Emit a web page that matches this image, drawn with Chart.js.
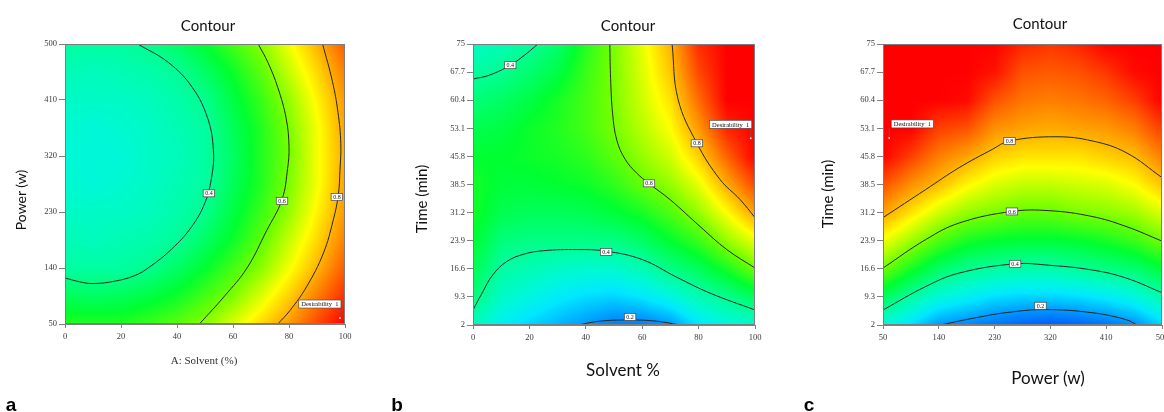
<!DOCTYPE html>
<html>
<head>
<meta charset="utf-8">
<script src="https://cdn.jsdelivr.net/npm/chart.js@4.4.1/dist/chart.umd.min.js"></script>
<style>
  body { margin: 0; background: #fff; width: 1164px; height: 412px; position: relative; overflow: hidden; font-family: Lato, sans-serif; }
  canvas { position: absolute; left: 0; top: 0; }
  .t { position: absolute; white-space: nowrap; color: #111; transform: translate(-50%, -50%); line-height: 1; }
  .rot { transform: translate(-50%, -50%) rotate(-90deg); }
  .serif { font-family: "Liberation Serif", serif; color: #333; }
  .tag { font-family: "Liberation Sans", Arial, sans-serif; font-weight: bold; font-size: 19px; color: #000; }
</style>
</head>
<body>
<canvas id="chartA" width="1164" height="412"></canvas>
<canvas id="chartB" width="1164" height="412"></canvas>
<canvas id="chartC" width="1164" height="412"></canvas>

<div class="t" style="left:208px; top:25px; font-size:15px;">Contour</div>
<div class="t" style="left:628px; top:25px; font-size:15px;">Contour</div>
<div class="t" style="left:1040px; top:23px; font-size:15px;">Contour</div>

<div class="t rot" style="left:21px; top:200px; font-size:14px;">Power (w)</div>
<div class="t rot" style="left:421px; top:199px; font-size:15px;">Time (min)</div>
<div class="t rot" style="left:827px; top:194px; font-size:15px;">Time (min)</div>

<div class="t serif" style="left:204px; top:360px; font-size:11px;">A: Solvent (%)</div>
<div class="t" style="left:623px; top:369px; font-size:17px;">Solvent %</div>
<div class="t" style="left:1048px; top:377px; font-size:17px;">Power (w)</div>

<div class="t tag" style="left:11px; top:404px;">a</div>
<div class="t tag" style="left:397px; top:404px;">b</div>
<div class="t tag" style="left:809px; top:404px;">c</div>

<script>
// axis ticks
const solventTicks = [0, 20, 40, 60, 80, 100];
const powerTicks = [50, 140, 230, 320, 410, 500];
const timeTicks = [2, 9.3, 16.6, 23.9, 31.2, 38.5, 45.8, 53.1, 60.4, 67.7, 75];

const solventGrid = [0, 10, 20, 30, 40, 50, 60, 70, 80, 90, 100];
const powerGrid = [50, 95, 140, 185, 230, 275, 320, 365, 410, 455, 500];
const timeGrid = [2, 9.3, 16.6, 23.9, 31.2, 38.5, 45.8, 53.1, 60.4, 67.7, 75];

// a: rows = power (50 -> 500), cols = solvent (0 -> 100)
const desirA = [
  [0.53, 0.53, 0.53, 0.55, 0.58, 0.62, 0.69, 0.76, 0.83, 0.92, 1.00],
  [0.46, 0.45, 0.46, 0.48, 0.51, 0.56, 0.61, 0.69, 0.77, 0.86, 0.95],
  [0.39, 0.39, 0.39, 0.41, 0.45, 0.50, 0.56, 0.62, 0.71, 0.80, 0.90],
  [0.37, 0.36, 0.37, 0.38, 0.40, 0.45, 0.51, 0.58, 0.67, 0.76, 0.86],
  [0.35, 0.35, 0.35, 0.36, 0.38, 0.41, 0.48, 0.55, 0.63, 0.73, 0.83],
  [0.34, 0.33, 0.34, 0.35, 0.37, 0.39, 0.46, 0.53, 0.61, 0.71, 0.82],
  [0.33, 0.33, 0.33, 0.35, 0.36, 0.39, 0.45, 0.53, 0.60, 0.71, 0.81],
  [0.34, 0.33, 0.34, 0.35, 0.37, 0.39, 0.46, 0.53, 0.61, 0.71, 0.82],
  [0.35, 0.35, 0.35, 0.36, 0.38, 0.41, 0.48, 0.55, 0.63, 0.73, 0.83],
  [0.37, 0.36, 0.37, 0.38, 0.40, 0.45, 0.51, 0.58, 0.67, 0.76, 0.86],
  [0.39, 0.39, 0.39, 0.41, 0.45, 0.50, 0.56, 0.62, 0.71, 0.80, 0.90]
];

// b: rows = time (2 -> 75), cols = solvent (0 -> 100)
const desirB = [
  [0.36, 0.30, 0.26, 0.23, 0.20, 0.17, 0.17, 0.20, 0.28, 0.32, 0.34],
  [0.43, 0.35, 0.32, 0.29, 0.27, 0.26, 0.28, 0.32, 0.37, 0.41, 0.46],
  [0.47, 0.39, 0.37, 0.35, 0.34, 0.34, 0.37, 0.42, 0.46, 0.52, 0.60],
  [0.50, 0.43, 0.42, 0.42, 0.42, 0.42, 0.45, 0.50, 0.55, 0.63, 0.70],
  [0.52, 0.47, 0.46, 0.46, 0.47, 0.49, 0.52, 0.57, 0.63, 0.72, 0.82],
  [0.52, 0.49, 0.49, 0.50, 0.51, 0.54, 0.59, 0.63, 0.70, 0.81, 0.92],
  [0.50, 0.50, 0.51, 0.52, 0.54, 0.58, 0.63, 0.68, 0.77, 0.89, 1.00],
  [0.47, 0.48, 0.51, 0.53, 0.56, 0.605, 0.66, 0.72, 0.83, 0.96, 1.00],
  [0.43, 0.45, 0.48, 0.52, 0.56, 0.61, 0.68, 0.75, 0.88, 1.00, 1.00],
  [0.39, 0.405, 0.44, 0.48, 0.55, 0.61, 0.69, 0.78, 0.92, 1.00, 1.00],
  [0.35, 0.37, 0.395, 0.44, 0.53, 0.61, 0.70, 0.80, 0.95, 1.00, 1.00]
];

// c: rows = time (2 -> 75), cols = power (50 -> 500)
const desirC = [
  [0.33, 0.27, 0.20, 0.18, 0.16, 0.14, 0.13, 0.14, 0.16, 0.19, 0.26],
  [0.46, 0.39, 0.33, 0.30, 0.27, 0.26, 0.26, 0.27, 0.29, 0.32, 0.38],
  [0.60, 0.52, 0.45, 0.41, 0.39, 0.38, 0.38, 0.40, 0.42, 0.44, 0.49],
  [0.71, 0.64, 0.57, 0.52, 0.50, 0.49, 0.49, 0.50, 0.52, 0.55, 0.60],
  [0.82, 0.75, 0.68, 0.63, 0.61, 0.59, 0.59, 0.61, 0.62, 0.64, 0.69],
  [0.91, 0.84, 0.79, 0.73, 0.69, 0.67, 0.67, 0.68, 0.69, 0.72, 0.78],
  [1.00, 0.93, 0.86, 0.82, 0.77, 0.75, 0.75, 0.75, 0.77, 0.79, 0.86],
  [1.00, 1.00, 0.93, 0.91, 0.84, 0.82, 0.81, 0.82, 0.83, 0.86, 0.93],
  [1.00, 1.00, 1.00, 0.99, 0.91, 0.87, 0.86, 0.87, 0.89, 0.93, 1.00],
  [1.00, 1.00, 1.00, 1.00, 0.98, 0.91, 0.90, 0.91, 0.94, 0.99, 1.00],
  [1.00, 1.00, 1.00, 1.00, 1.00, 0.96, 0.94, 0.96, 1.00, 1.00, 1.00]
];

const a04 = [{x:0,y:124},{x:5,y:118},{x:10,y:115},{x:18,y:119},{x:25,y:128},{x:30,y:141},{x:38,y:170},{x:45,y:205},{x:50,y:245},{x:52.5,y:290},{x:53,y:330},{x:51,y:380},{x:45.5,y:430},{x:37,y:470},{x:26,y:500}];
const a06 = [{x:48,y:50},{x:57,y:95},{x:65,y:140},{x:72,y:200},{x:77.5,y:250},{x:79.5,y:300},{x:80,y:335},{x:79,y:380},{x:76,y:430},{x:72.5,y:470},{x:69,y:500}];
const a08 = [{x:76,y:50},{x:80.4,y:72},{x:86.3,y:110},{x:92.3,y:164},{x:95.8,y:217},{x:97.6,y:257},{x:98.2,y:297},{x:98.5,y:340},{x:97.5,y:390},{x:95.5,y:440},{x:92,y:500}];

const b02 = [{x:37.2,y:2},{x:45,y:3.0},{x:55.7,y:3.3},{x:65,y:3.0},{x:73.4,y:2}];
const b04 = [{x:0,y:5.9},{x:3,y:10},{x:7,y:15},{x:12,y:18.5},{x:18,y:20.4},{x:25,y:21.3},{x:37,y:21.6},{x:47,y:21.2},{x:60,y:19},{x:72,y:14.5},{x:84,y:10.3},{x:100,y:5.9}];
const b04top = [{x:0,y:65.9},{x:5.8,y:66.9},{x:13.2,y:69.5},{x:18.8,y:72.4},{x:23,y:75}];
const b06 = [{x:48.5,y:75},{x:48.8,y:66},{x:49.5,y:57},{x:51,y:50},{x:54,y:45},{x:58,y:41.5},{x:62.5,y:38.7},{x:70,y:34.5},{x:80.5,y:27.6},{x:90,y:21.6},{x:100,y:16.8}];
const b08 = [{x:70.6,y:75},{x:72.7,y:60.7},{x:79.4,y:49.2},{x:87.6,y:39.8},{x:94.7,y:34.6},{x:100,y:29.9}];

const c02 = [{x:143,y:2},{x:200,y:3.9},{x:253,y:5.3},{x:312,y:6.0},{x:387,y:5.2},{x:442,y:3.4},{x:460,y:2}];
const c04 = [{x:50,y:5.9},{x:119,y:12},{x:173,y:15.5},{x:263,y:17.9},{x:312,y:17.6},{x:387,y:16.3},{x:442,y:14.2},{x:500,y:10.4}];
const c06 = [{x:50,y:16.8},{x:119,y:24.2},{x:173,y:28.5},{x:258,y:31.5},{x:318,y:31.7},{x:387,y:30.2},{x:442,y:27.6},{x:500,y:23.8}];
const c08 = [{x:50,y:29.9},{x:119,y:37.2},{x:173,y:42.9},{x:226,y:47.6},{x:254,y:49.8},{x:329,y:50.9},{x:388,y:49.8},{x:442,y:46.8},{x:500,y:40.3}];

// contour level tags [x, y, text]
const tagsA = [[51.4, 260, '0.4'], [77.5, 248, '0.6'], [97.1, 254, '0.8']];
const tagsB = [[13.2, 69.5, '0.4'], [47.2, 21.0, '0.4'], [62.4, 38.8, '0.6'], [79.4, 49.2, '0.8'], [55.7, 4.1, '0.2']];
const tagsC = [[254, 49.8, '0.8'], [258, 31.5, '0.6'], [263, 17.9, '0.4'], [304, 7.0, '0.2']];

// optimum points (Desirability 1)
const optA = [98.2, 59.6];
const optB = [98.5, 50.5];
const optC = [60, 50.6];

// colour ramp, desirability -> colour
const rampAt = [0.10, 0.20, 0.28, 0.33, 0.40, 0.50, 0.60, 0.72, 0.80, 0.90, 1.00];
const rampColors = ['#0040ff', '#0098ff', '#00e8ff', '#00f8d8', '#00ff98', '#00ff30', '#70ff00', '#ffff00', '#ffb400', '#ff5a00', '#ff0000'];
const rampRgb = rampColors.map(h => [1, 3, 5].map(i => parseInt(h.substr(i, 2), 16)));

function rampColor(d) {
  if (d <= rampAt[0]) return rampRgb[0];
  for (let i = 1; i < rampAt.length; i++) {
    if (d <= rampAt[i]) {
      const t = (d - rampAt[i - 1]) / (rampAt[i] - rampAt[i - 1]);
      const a = rampRgb[i - 1], b = rampRgb[i];
      return [a[0] + (b[0] - a[0]) * t, a[1] + (b[1] - a[1]) * t, a[2] + (b[2] - a[2]) * t];
    }
  }
  return rampRgb[rampRgb.length - 1];
}

function locate(grid, v) {
  let i = 0;
  while (i < grid.length - 2 && v > grid[i + 1]) i++;
  const t = Math.min(1, Math.max(0, (v - grid[i]) / (grid[i + 1] - grid[i])));
  return [i, t];
}

function sample(gx, gy, z, vx, vy) {
  const [i, tx] = locate(gx, vx);
  const [j, ty] = locate(gy, vy);
  const lo = z[j][i] * (1 - tx) + z[j][i + 1] * tx;
  const hi = z[j + 1][i] * (1 - tx) + z[j + 1][i + 1] * tx;
  return lo * (1 - ty) + hi * ty;
}

// paints the desirability surface under the contours, then tags on top
const surfacePlugin = {
  id: 'surface',
  beforeDraw(chart) {
    const o = chart.options.plugins.surface;
    const { ctx, chartArea: a, scales: { x, y } } = chart;
    const w = Math.round(a.right - a.left), h = Math.round(a.bottom - a.top);
    const img = ctx.createImageData(w, h);
    for (let py = 0; py < h; py++) {
      const vy = y.getValueForPixel(a.top + py + 0.5);
      for (let px = 0; px < w; px++) {
        const vx = x.getValueForPixel(a.left + px + 0.5);
        const c = rampColor(sample(o.gx, o.gy, o.z, vx, vy));
        const k = (py * w + px) * 4;
        img.data[k] = c[0]; img.data[k + 1] = c[1]; img.data[k + 2] = c[2]; img.data[k + 3] = 255;
      }
    }
    ctx.putImageData(img, Math.round(a.left), Math.round(a.top));
  },
  afterDatasetsDraw(chart) {
    const o = chart.options.plugins.surface;
    const { ctx, chartArea: a, scales: { x, y } } = chart;
    ctx.save();
    ctx.strokeStyle = '#7d7d7d';
    ctx.lineWidth = 1;
    ctx.strokeRect(Math.round(a.left) + 0.5, Math.round(a.top) + 0.5, Math.round(a.right - a.left) - 1, Math.round(a.bottom - a.top) - 1);

    ctx.font = '6px "Liberation Serif", serif';
    ctx.textAlign = 'center';
    ctx.textBaseline = 'middle';
    for (const [vx, vy, text] of o.tags) {
      const px = x.getPixelForValue(vx), py = y.getPixelForValue(vy);
      const w = ctx.measureText(text).width + 4, h = 7;
      ctx.fillStyle = '#fff';
      ctx.fillRect(px - w / 2, py - h / 2, w, h);
      ctx.strokeStyle = '#444';
      ctx.lineWidth = 0.7;
      ctx.strokeRect(px - w / 2, py - h / 2, w, h);
      ctx.fillStyle = '#111';
      ctx.fillText(text, px, py + 0.5);
    }

    // Desirability 1 flag
    const px = x.getPixelForValue(o.opt[0]), py = y.getPixelForValue(o.opt[1]);
    ctx.font = '6.5px "Liberation Serif", serif';
    const text = 'Desirability  1';
    const w = ctx.measureText(text).width + 5, h = 8;
    const bx = o.optSide === 'left' ? px - w + 1 : px + 2;
    const by = py - 10 - h;
    ctx.strokeStyle = '#666';
    ctx.lineWidth = 0.6;
    ctx.beginPath();
    ctx.moveTo(px, by + h);
    ctx.lineTo(px, py);
    ctx.stroke();
    ctx.fillStyle = '#fff';
    ctx.fillRect(bx, by, w, h);
    ctx.strokeStyle = '#444';
    ctx.strokeRect(bx, by, w, h);
    ctx.fillStyle = '#111';
    ctx.textAlign = 'left';
    ctx.fillText(text, bx + 2.5, by + h / 2 + 0.5);
    ctx.fillStyle = '#f4d0d0';
    ctx.beginPath();
    ctx.arc(px, py, 1, 0, Math.PI * 2);
    ctx.fill();
    ctx.restore();
  }
};

function axis(ticks, min, max, isX) {
  return {
    type: 'linear',
    min: min,
    max: max,
    afterBuildTicks: s => { s.ticks = ticks.map(v => ({ value: v })); },
    afterFit: s => {
      if (isX) s.height = 30; else s.width = 40;
      s.paddingLeft = 0; s.paddingRight = 0; s.paddingTop = 0; s.paddingBottom = 0;
    },
    ticks: {
      autoSkip: false,
      maxRotation: 0,
      padding: isX ? 4 : 2,
      color: '#3a3a3a',
      font: { family: '"Liberation Serif", serif', size: 8.5 },
      callback: v => String(v)
    },
    grid: { drawOnChartArea: false, drawTicks: true, tickLength: isX ? 4 : 6, color: '#808080' },
    border: { display: true, color: '#808080' }
  };
}

function contourChart(id, lines, box, xAxis, yAxis, surface) {
  return new Chart(document.getElementById(id), {
    type: 'line',
    data: {
      datasets: lines.map(pts => ({
        data: pts,
        borderColor: '#262626',
        borderWidth: 1,
        pointRadius: 0,
        tension: 0.4,
        fill: false
      }))
    },
    options: {
      responsive: false,
      animation: false,
      events: [],
      layout: { padding: { left: box.left - 40, right: 1164 - box.right, top: box.top, bottom: 412 - box.bottom - 30 } },
      plugins: { legend: { display: false }, tooltip: { enabled: false }, surface: surface },
      scales: { x: xAxis, y: yAxis }
    },
    plugins: [surfacePlugin]
  });
}

contourChart('chartA', [a04, a06, a08],
  { left: 65, right: 345, top: 44, bottom: 324 },
  axis(solventTicks, 0, 100, true), axis(powerTicks, 50, 500, false),
  { gx: solventGrid, gy: powerGrid, z: desirA, tags: tagsA, opt: optA, optSide: 'left' });

contourChart('chartB', [b02, b04, b04top, b06, b08],
  { left: 473, right: 755, top: 44, bottom: 325 },
  axis(solventTicks, 0, 100, true), axis(timeTicks, 2, 75, false),
  { gx: solventGrid, gy: timeGrid, z: desirB, tags: tagsB, opt: optB, optSide: 'left' });

contourChart('chartC', [c02, c04, c06, c08],
  { left: 883, right: 1162, top: 44, bottom: 325 },
  axis(powerTicks, 50, 500, true), axis(timeTicks, 2, 75, false),
  { gx: powerGrid, gy: timeGrid, z: desirC, tags: tagsC, opt: optC, optSide: 'right' });
</script>
</body>
</html>
